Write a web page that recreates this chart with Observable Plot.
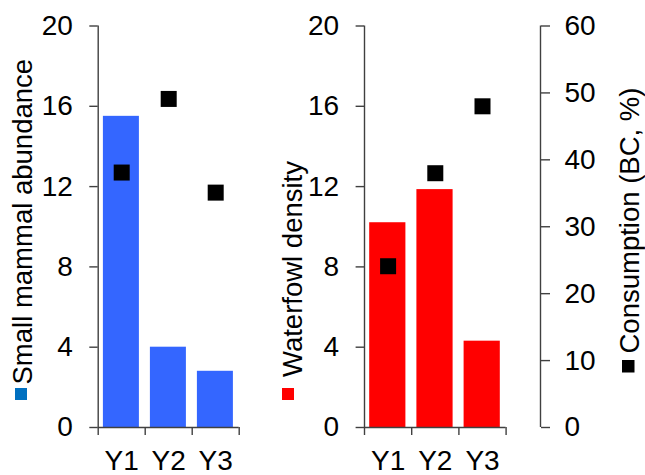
<!DOCTYPE html>
<html>
<head>
<meta charset="utf-8">
<script src="https://cdn.jsdelivr.net/npm/d3@7"></script>
<script src="https://cdn.jsdelivr.net/npm/@observablehq/plot@0.6"></script>
<style>
  html, body { margin: 0; padding: 0; background: #ffffff; }
  #chart { position: relative; width: 645px; height: 475px; overflow: hidden; font-family: "Liberation Sans", Arial, sans-serif; }
  #chart > svg { position: absolute; left: 0; top: 0; }
</style>
</head>
<body>
<div id="chart"></div>
<script>
// ---- data ----
const categories = ["Y1", "Y2", "Y3"];
const mammalAbundance = [15.5, 4.0, 2.8];
const waterfowlDensity = [10.2, 11.85, 4.3];
const consumptionMammalPanel = [38.1, 49.1, 35.1];
const consumptionWaterfowlPanel = [24.1, 38.0, 48.0];
const densityTicks = [0, 4, 8, 12, 16, 20];
const consumptionTicks = [0, 10, 20, 30, 40, 50, 60];
const titles = {
  mammal: "Small mammal abundance",
  waterfowl: "Waterfowl density",
  consumption: "Consumption (BC, %)"
};

const W = 645, H = 475;
const MT = 25.5, MB = 48;
const axisColor = "#404040";
const font = { background: "transparent", fontFamily: "'Liberation Sans', Arial, sans-serif", fontSize: "28px", color: "black", overflow: "visible" };
const container = document.getElementById("chart");

function barPanel(values, color, left, right) {
  const data = categories.map((c, i) => ({ i, c, v: values[i] }));
  return Plot.plot({
    width: W, height: H,
    marginLeft: left, marginRight: W - right, marginTop: MT, marginBottom: MB,
    style: font,
    x: { domain: [0, 3], axis: null },
    y: { domain: [0, 20], axis: null },
    marks: [
      Plot.rectY(data, { x1: "i", x2: d => d.i + 1, y1: 0, y2: "v", fill: color, insetLeft: 5.2, insetRight: 5.8 }),
      Plot.ruleX([0], { stroke: axisColor, strokeWidth: 1.4 }),
      Plot.ruleY([0], { stroke: axisColor, strokeWidth: 1.4 }),
      Plot.axisY({ ticks: densityTicks, tickSize: 8.4, tickPadding: 17, stroke: axisColor, strokeWidth: 1.4, fill: "black", fontSize: 28, label: null }),
      Plot.axisX({ ticks: [0, 1, 2, 3], tickSize: 8, tickFormat: () => "", stroke: axisColor, strokeWidth: 1.4, label: null }),
      Plot.axisX({ ticks: [0.5, 1.5, 2.5], tickSize: 0, tickPadding: 23, tickFormat: d => categories[Math.floor(d)], fill: "black", fontSize: 28, label: null })
    ]
  });
}

function squarePanel(values, left, right) {
  const data = categories.map((c, i) => ({ i, c, v: values[i] }));
  return Plot.plot({
    width: W, height: H,
    marginLeft: left, marginRight: W - right, marginTop: MT, marginBottom: MB,
    style: font,
    x: { domain: [0, 3], axis: null },
    y: { domain: [0, 60], axis: null },
    marks: [
      Plot.dot(data, { x: d => d.i + 0.5, y: "v", symbol: "square", r: 9.03, fill: "black", stroke: null })
    ]
  });
}

function consumptionAxis(axisX) {
  return Plot.plot({
    width: W, height: H,
    marginLeft: axisX - 40, marginRight: W - axisX, marginTop: MT, marginBottom: MB,
    style: font,
    x: { domain: [0, 1], axis: null },
    y: { domain: [0, 60], axis: null },
    marks: [
      Plot.ruleX([1], { stroke: axisColor, strokeWidth: 1.4 }),
      Plot.axisY({ anchor: "right", ticks: consumptionTicks, tickSize: 9, tickPadding: 15, stroke: axisColor, strokeWidth: 1.4, fill: "black", fontSize: 28, label: null })
    ]
  });
}

container.appendChild(barPanel(mammalAbundance, "#3466FF", 97.7, 238.7));
container.appendChild(squarePanel(consumptionMammalPanel, 97.7, 238.7));
container.appendChild(barPanel(waterfowlDensity, "#FF0000", 364, 505.6));
container.appendChild(squarePanel(consumptionWaterfowlPanel, 364, 505.6));
container.appendChild(consumptionAxis(540));

// ---- axis titles with legend keys ----
const ns = "http://www.w3.org/2000/svg";
const ann = document.createElementNS(ns, "svg");
ann.setAttribute("width", W);
ann.setAttribute("height", H);
ann.style.fontFamily = "'Liberation Sans', Arial, sans-serif";
function addTitle(text, x, y) {
  const t = document.createElementNS(ns, "text");
  t.setAttribute("transform", `translate(${x},${y}) rotate(-90)`);
  t.setAttribute("font-size", "27.5");
  t.setAttribute("fill", "black");
  t.textContent = text;
  ann.appendChild(t);
}
function addKey(x, y, s, color) {
  const r = document.createElementNS(ns, "rect");
  r.setAttribute("x", x); r.setAttribute("y", y);
  r.setAttribute("width", s); r.setAttribute("height", s);
  r.setAttribute("fill", color);
  ann.appendChild(r);
}
addTitle(titles.mammal, 32, 384.5);
addKey(15, 388, 12, "#0070C0");
addTitle(titles.waterfowl, 302, 377);
addKey(282, 388, 12, "#FF0000");
addTitle(titles.consumption, 639, 353.5);
addKey(622, 360, 12.5, "#000000");
container.appendChild(ann);
</script>
</body>
</html>
